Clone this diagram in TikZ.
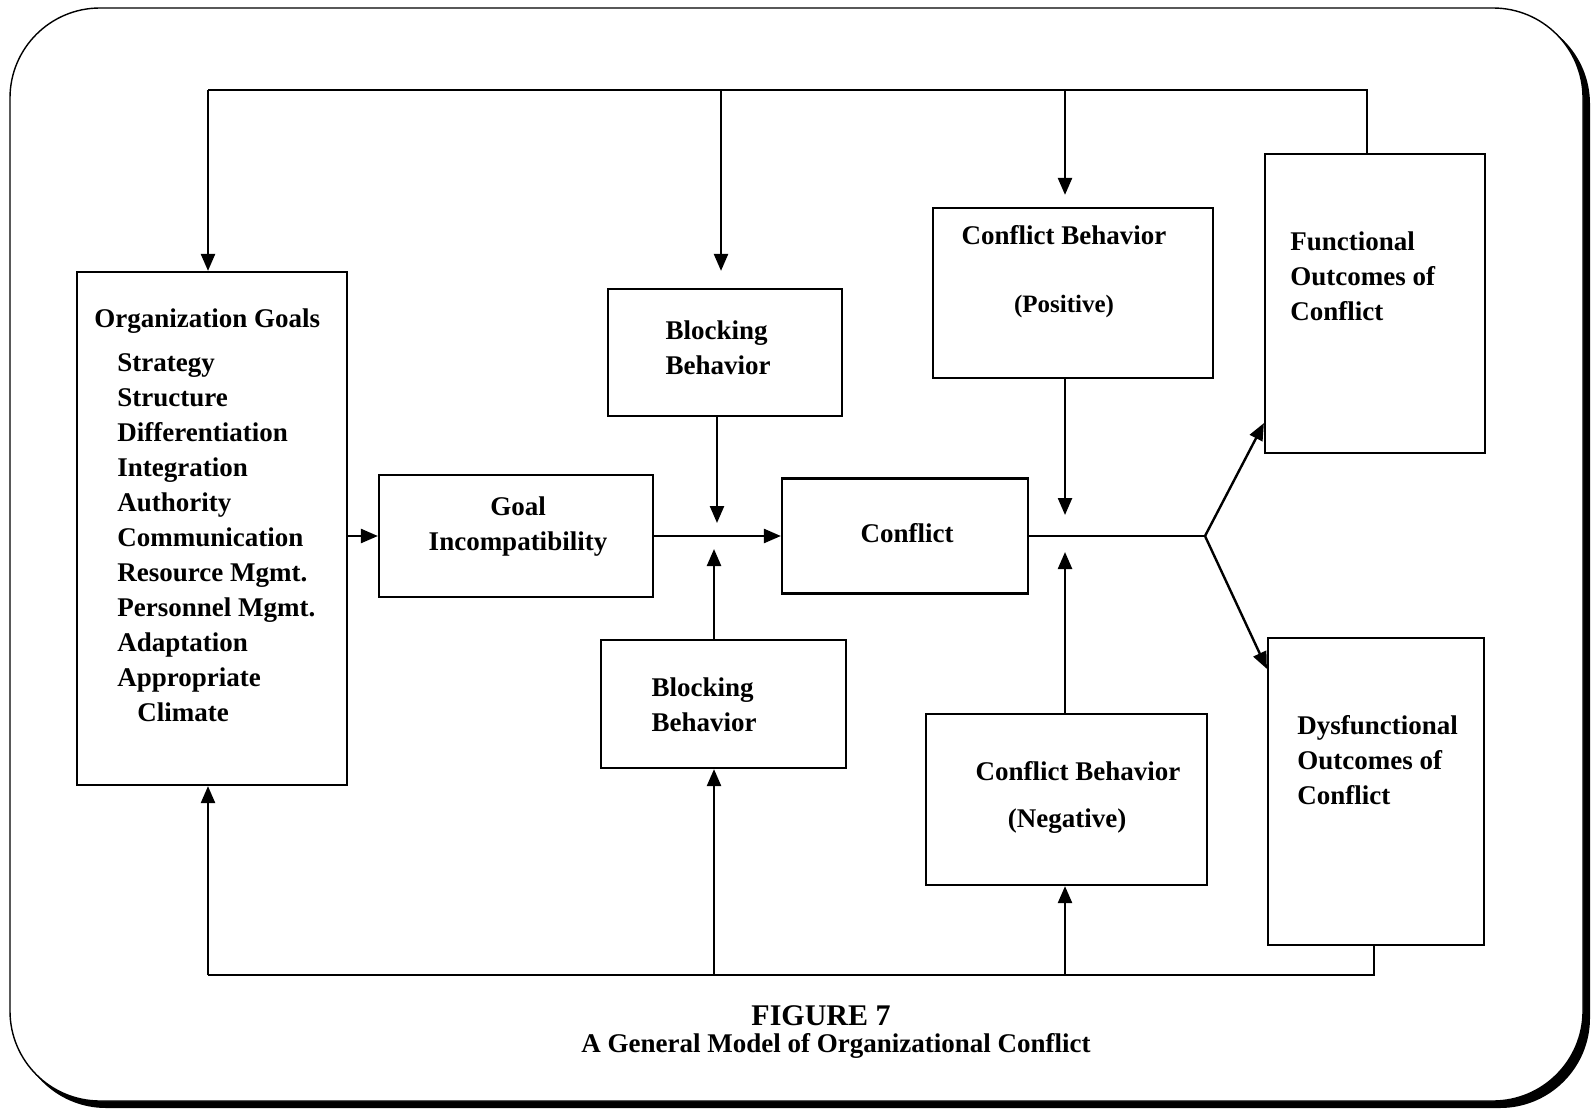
\documentclass[tikz,border=0pt]{standalone}
\usepackage{fontspec}
\setmainfont{Liberation Serif}
\usetikzlibrary{arrows.meta}

\begin{document}
\begin{tikzpicture}[x=0.5pt,y=-0.5pt,
  box/.style={draw,line width=1.1pt,inner sep=0pt},
  txt/.style={inner sep=0pt,font=\fontsize{13.5}{17.5}\selectfont\bfseries},
  arr/.style={line width=1.2pt,-{Triangle[length=8.5pt,width=7pt]}},
  ln/.style={line width=1.2pt}]
\useasboundingbox (0,0) rectangle (1593,1112);
% frame with shadow
\fill[rounded corners=45pt] (16,14) rectangle (1590,1108);
\draw[fill=white,line width=0.7pt,rounded corners=45pt] (10,8) rectangle (1583,1101);

\node[box,minimum width=135pt,minimum height=256.5pt] (org) at (212,528.5) {};
\node[box,minimum width=137pt,minimum height=61pt] (goal) at (516,536) {};
\node[box,minimum width=117pt,minimum height=63.5pt] (btop) at (725,352.5) {};
\node[box,minimum width=122.5pt,minimum height=64pt] (bblk) at (723.5,704) {};
\node[box,minimum width=123pt,minimum height=57.5pt] (conf) at (905,536) {};
\node[box,minimum width=140pt,minimum height=85pt] (cbpos) at (1073,293) {};
\node[box,minimum width=140.5pt,minimum height=85.5pt] (cbneg) at (1066.5,799.5) {};
\node[box,minimum width=110pt,minimum height=149.5pt] (func) at (1375,303.5) {};
\node[box,minimum width=108pt,minimum height=153.5pt] (dysf) at (1376,791.5) {};

\node[txt,anchor=west] (orgt) at (94,321) {Organization Goals};
\node[txt,anchor=west,align=left] (orgl) at (117,537.5) {Strategy\\Structure\\Differentiation\\Integration\\Authority\\Communication\\Resource Mgmt.\\Personnel Mgmt.\\Adaptation\\Appropriate\\\hspace*{10pt}Climate};
\node[txt,align=center] (goalt) at (518,527) {Goal\\Incompatibility};
\node[txt,align=left] (btopt) at (718,347.5) {Blocking\\Behavior};
\node[txt,align=left] (bblkt) at (704,705) {Blocking\\Behavior};
\node[txt] (conft) at (907,533) {Conflict};
\node[txt] (cbpost) at (1064,235) {Conflict Behavior};
\node[txt,font=\fontsize{12.5}{15}\selectfont\bfseries] (cbposs) at (1064,306) {(Positive)};
\node[txt] (cbnegt) at (1078,771) {Conflict Behavior};
\node[txt] (cbnegs) at (1067,821) {(Negative)};
\node[txt,anchor=west,align=left] (funct) at (1290,276) {Functional\\Outcomes of\\Conflict};
\node[txt,anchor=west,align=left] (dysft) at (1297,760) {Dysfunctional\\Outcomes of\\Conflict};
\node[txt,font=\fontsize{15}{18}\selectfont\bfseries] (fig) at (821,1016) {FIGURE 7};
\node[txt] (cap) at (836,1046) {A General Model of Organizational Conflict};

\coordinate (t1) at (208,90);  \coordinate (t2) at (721,90);
\coordinate (t3) at (1065,90); \coordinate (t4) at (1367,90);
\coordinate (b1) at (208,975);  \coordinate (b2) at (714,975);
\coordinate (b3) at (1065,975); \coordinate (b4) at (1374,975);
\coordinate (sp) at (1205,536);
\coordinate (jt) at (717,523);  \coordinate (jb) at (714,549);
\coordinate (jp) at (1065,515); \coordinate (jn) at (1065,552);

% feedback loops
\draw[ln] (func.north -| t4) -- (t4) -- (t1);
\draw[arr] (t1) -- (org.north -| t1);
\draw[arr,shorten >=8.5pt] (t2) -- (btop.north -| t2);
\draw[arr,shorten >=6pt] (t3) -- (cbpos.north -| t3);
\draw[ln] (dysf.south -| b4) -- (b4) -- (b1);
\draw[arr] (b1) -- (org.south -| b1);
\draw[arr] (b2) -- (bblk.south -| b2);
\draw[arr] (b3) -- (cbneg.south -| b3);

% main chain
\draw[arr] (org.east |- goal.west) -- (goal.west);
\draw[arr] (goal.east) -- (conf.west);
\draw[arr] (btop.south -| jt) -- (jt);
\draw[arr] (bblk.north -| jb) -- (jb);
\draw[arr] (cbpos.south -| jp) -- (jp);
\draw[arr] (cbneg.north -| jn) -- (jn);
\draw[ln] (conf.east) -- (sp);
\draw[arr] (sp) -- ([yshift=15.5pt]func.south west);
\draw[arr] (sp) -- ([yshift=-16pt]dysf.north west);
\end{tikzpicture}
\end{document}
